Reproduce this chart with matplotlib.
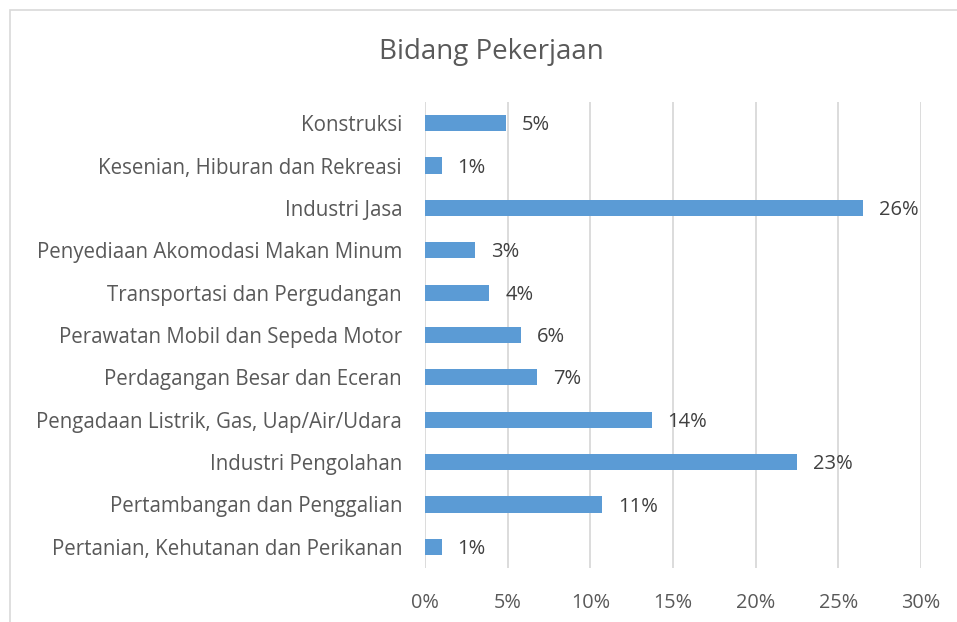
import matplotlib
matplotlib.use("Agg")
import matplotlib.pyplot as plt
from matplotlib.patches import Rectangle

categories = [
    "Konstruksi",
    "Kesenian, Hiburan dan Rekreasi",
    "Industri Jasa",
    "Penyediaan Akomodasi Makan Minum",
    "Transportasi dan Pergudangan",
    "Perawatan Mobil dan Sepeda Motor",
    "Perdagangan Besar dan Eceran",
    "Pengadaan Listrik, Gas, Uap/Air/Udara",
    "Industri Pengolahan",
    "Pertambangan dan Penggalian",
    "Pertanian, Kehutanan dan Perikanan",
]
values = [4.9, 1.0, 26.5, 3.0, 3.9, 5.8, 6.8, 13.7, 22.5, 10.7, 1.0]
value_labels = ["5%", "1%", "26%", "3%", "4%", "6%", "7%", "14%", "23%", "11%", "1%"]
xticks = [0, 5, 10, 15, 20, 25, 30]
xtick_labels = ["0%", "5%", "10%", "15%", "20%", "25%", "30%"]
title = "Bidang Pekerjaan"

plt.rcParams['font.family'] = ['Open Sans', 'DejaVu Sans']

W, H = 957, 622
fig = plt.figure(figsize=(W/100, H/100), dpi=100)
fig.patches.append(Rectangle((10/W, -0.1), 1.2, (H-10)/H + 0.1, transform=fig.transFigure,
                             fill=False, edgecolor="#D9D9D9", linewidth=1.2))

ax = fig.add_axes([425/W, 1 - 568/H, (921-425)/W, (568-102)/H])
n = len(categories)
ypos = list(range(n))
ax.barh(ypos, values, height=0.38, color="#5B9BD5", zorder=3)
ax.set_ylim(n - 0.5, -0.5)
ax.set_xlim(0, 30)
ax.set_xticks(xticks)
ax.set_xticklabels(xtick_labels)
ax.set_yticks(ypos)
ax.set_yticklabels(categories)
ax.tick_params(axis='y', length=0, labelsize=14.8, colors="#595959", pad=16.5)
ax.tick_params(axis='x', length=0, labelsize=14.3, colors="#595959", pad=18)
ax.grid(axis='x', color="#D9D9D9", linewidth=1.3, zorder=0)
for s in ax.spines.values():
    s.set_visible(False)

for y, v, lab in zip(ypos, values, value_labels):
    ax.annotate(lab, xy=(v, y), xytext=(11.5, -1.5), textcoords="offset points",
                va="center", ha="left", fontsize=14.5, color="#404040")

fig.text(491/W, 1 - 52/H, title, ha="center", va="center", fontsize=20, color="#595959")

fig.savefig("out.png", dpi=100)
